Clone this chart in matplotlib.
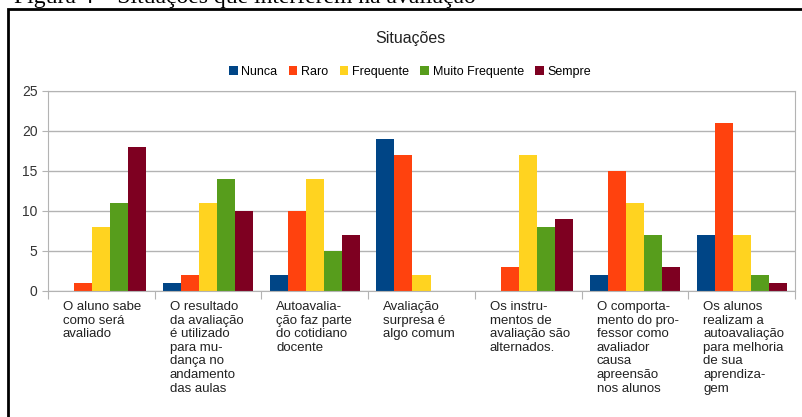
import numpy as np
import matplotlib.pyplot as plt
from matplotlib.patches import Rectangle
from matplotlib.transforms import blended_transform_factory

plt.rcParams['font.family'] = ['Liberation Sans', 'DejaVu Sans']

# Dados do gráfico
categorias = [
    "O aluno sabe\ncomo será\navaliado",
    "O resultado\nda avaliação\né utilizado\npara mu-\ndança no\nandamento\ndas aulas",
    "Autoavalia-\nção faz parte\ndo cotidiano\ndocente",
    "Avaliação\nsurpresa é\nalgo comum",
    "Os instru-\nmentos de\navaliação são\nalternados.",
    "O comporta-\nmento do pro-\nfessor como\navaliador\ncausa\napreensão\nnos alunos",
    "Os alunos\nrealizam a\nautoavaliação\npara melhoria\nde sua\naprendiza-\ngem",
]
series = ["Nunca", "Raro", "Frequente", "Muito Frequente", "Sempre"]
nunca = [0, 1, 2, 19, 0, 2, 7]
raro = [1, 2, 10, 17, 3, 15, 21]
frequente = [8, 11, 14, 2, 17, 11, 7]
muito_frequente = [11, 14, 5, 0, 8, 7, 2]
sempre = [18, 10, 7, 0, 9, 3, 1]
valores = [nunca, raro, frequente, muito_frequente, sempre]
cores = ['#004586', '#ff420e', '#ffd320', '#579d1c', '#7e0021']

fig = plt.figure(figsize=(8.03, 4.17), dpi=100)

# Moldura externa e legenda da figura (cortada no topo, como no original)
fig.patches.append(Rectangle((8 / 803, -0.1), 1.0, (417 - 9) / 417 + 0.1,
                             transform=fig.transFigure, fill=False,
                             edgecolor='black', linewidth=2))
fig.text(14 / 803, (417 - 3) / 417, "Figura 4 – Situações que interferem na avaliação",
         family='Liberation Serif', fontsize=17, va='baseline', ha='left')

ax = fig.add_axes([48 / 803, 126 / 417, 747 / 803, 200 / 417])

x = np.arange(len(categorias))
largura = 0.169
for i, (nome, v, c) in enumerate(zip(series, valores, cores)):
    ax.bar(x + (i - 2) * largura, v, largura, color=c, label=nome, zorder=2)

ax.set_xlim(-0.5, len(categorias) - 0.5)
ax.set_ylim(0, 25)
ax.set_yticks([0, 5, 10, 15, 20, 25])
ax.grid(axis='y', color='#b3b3b3', linewidth=1, zorder=0)
for s in ax.spines.values():
    s.set_color('#b3b3b3')
ax.set_xticks(np.arange(len(categorias) + 1) - 0.5)
ax.set_xticklabels([])
ax.tick_params(axis='x', length=6, color='#b3b3b3')
ax.tick_params(axis='y', length=4, color='#b3b3b3', labelsize=10, labelcolor='#333333')

trans = blended_transform_factory(ax.transData, ax.transAxes)
for i, rotulo in enumerate(categorias):
    ax.text(i - 0.5 + 0.14, -0.05, rotulo, transform=trans, ha='left', va='top',
            fontsize=9.5, color='#222222', linespacing=1.18)

fig.text(410 / 803, (417 - 39) / 417, "Situações", ha='center', va='center',
         fontsize=11.5, color='#222222')
fig.legend(loc='center', bbox_to_anchor=(410 / 803, (417 - 72) / 417), ncol=5,
           frameon=False, fontsize=9, handlelength=0.7, handleheight=0.7,
           handletextpad=0.3, columnspacing=0.9)

fig.savefig('out.png', dpi=100)
